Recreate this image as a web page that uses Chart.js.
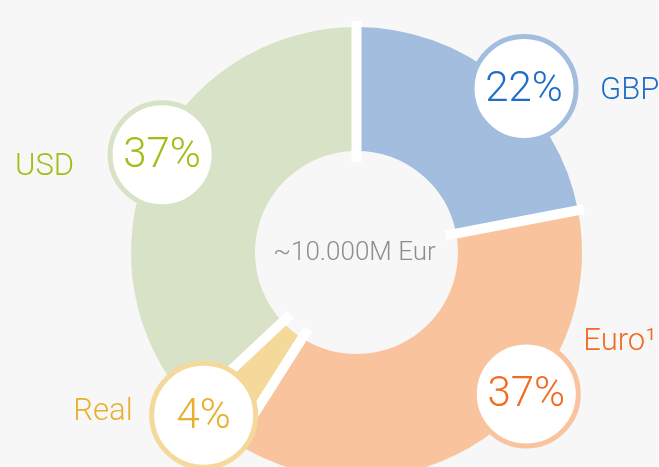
<!DOCTYPE html>
<html>
<head>
<meta charset="utf-8">
<script src="https://cdn.jsdelivr.net/npm/chart.js@4"></script>
<style>
  html, body { margin: 0; padding: 0; background: #f7f7f7; overflow: hidden; }
  canvas { display: block; }
</style>
</head>
<body>
<canvas id="myChart" width="659" height="490"></canvas>
<script>
const currencies = ["GBP", "Euro¹", "Real", "USD"];
const shares = [22, 37, 4, 37];
const centerLabel = "~10.000M Eur";

const fillColors = ["#a3bddf", "#f9c39e", "#f4d99b", "#d8e2c7"];
const textColors = ["#1f6ec5", "#f26b20", "#e8b02c", "#a3bd18"];

// bubble placement: angle shift (deg) from slice middle, distance as part of the outer radius,
// and where the currency name goes relative to the bubble centre
const bubbleLayout = [
  { shift: 6, dist: 1.04, nameX: 76, nameY: 3, align: "left" },
  { shift: -16, dist: 0.98, nameX: 57, nameY: -52, align: "left" },
  { shift: 3.6, dist: 0.99, nameX: -71, nameY: -3, align: "right" },
  { shift: 3.3, dist: 0.965, nameX: -88, nameY: 13, align: "right" },
];

const lightFont = (size) => `300 ${size}px Roboto, "Liberation Sans", sans-serif`;

// white gaps, bubbles and centre text
const decorations = {
  id: "decorations",
  afterDatasetsDraw(chart) {
    const ctx = chart.ctx;
    const arcs = chart.getDatasetMeta(0).data;
    ctx.save();

    ctx.strokeStyle = "#ffffff";
    ctx.lineWidth = 10;
    arcs.forEach((arc) => {
      const { x, y, startAngle, innerRadius, outerRadius } = arc.getProps(
        ["x", "y", "startAngle", "innerRadius", "outerRadius"], true);
      const c = Math.cos(startAngle), s = Math.sin(startAngle);
      ctx.beginPath();
      ctx.moveTo(x + c * (innerRadius - 11), y + s * (innerRadius - 11));
      ctx.lineTo(x + c * (outerRadius + 6), y + s * (outerRadius + 6));
      ctx.stroke();
    });

    arcs.forEach((arc, i) => {
      const { x, y, startAngle, endAngle, outerRadius } = arc.getProps(
        ["x", "y", "startAngle", "endAngle", "outerRadius"], true);
      const lay = bubbleLayout[i];
      const a = (startAngle + endAngle) / 2 + (lay.shift * Math.PI) / 180;
      const bx = x + Math.cos(a) * outerRadius * lay.dist;
      const by = y + Math.sin(a) * outerRadius * lay.dist;

      ctx.beginPath();
      ctx.arc(bx, by, 52, 0, Math.PI * 2);
      ctx.fillStyle = "#ffffff";
      ctx.fill();
      ctx.lineWidth = 5;
      ctx.strokeStyle = fillColors[i];
      ctx.stroke();

      ctx.fillStyle = textColors[i];
      ctx.textBaseline = "middle";
      ctx.textAlign = "center";
      ctx.font = lightFont(42);
      ctx.fillText(shares[i] + "%", bx, by + 2);

      ctx.font = lightFont(31);
      ctx.textAlign = lay.align;
      ctx.fillText(currencies[i], bx + lay.nameX, by + lay.nameY);
    });

    const meta = arcs[0];
    ctx.fillStyle = "#8e8e8e";
    ctx.font = lightFont(26);
    ctx.textAlign = "center";
    ctx.textBaseline = "middle";
    ctx.fillText(centerLabel, meta.x - 2, meta.y + 1);
    ctx.restore();
  },
};

const ctx = document.getElementById("myChart");
new Chart(ctx, {
  type: "doughnut",
  data: {
    labels: currencies,
    datasets: [
      {
        data: shares,
        backgroundColor: fillColors,
        borderWidth: 0,
      },
    ],
  },
  options: {
    responsive: false,
    animation: false,
    cutout: "45%",
    layout: { padding: { left: 131, right: 77, top: 27, bottom: 12 } },
    plugins: {
      legend: { display: false },
      tooltip: { enabled: false },
    },
  },
  plugins: [decorations],
});
</script>
</body>
</html>
